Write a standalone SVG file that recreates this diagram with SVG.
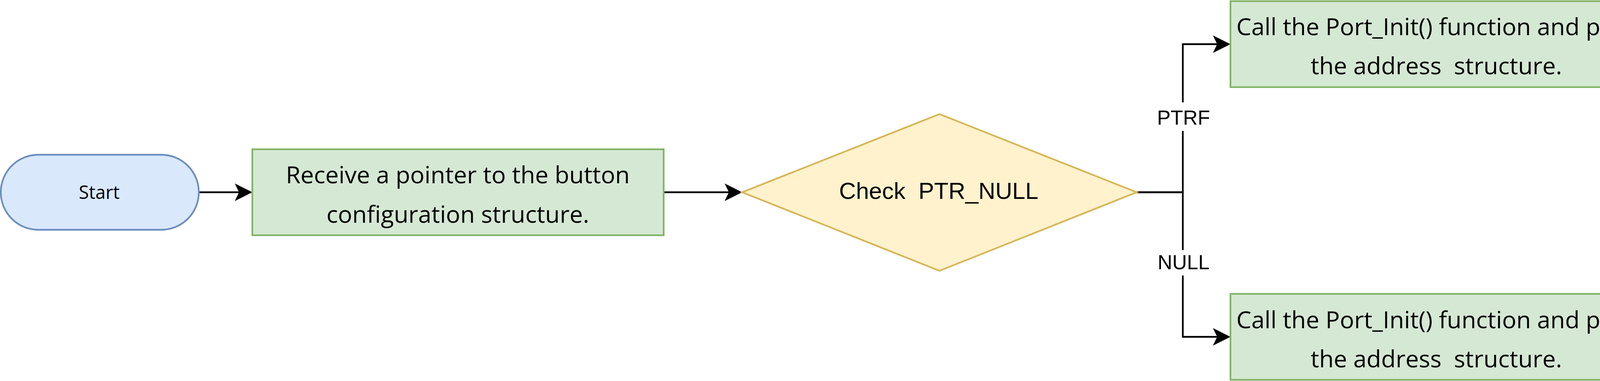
<svg xmlns="http://www.w3.org/2000/svg" width="5010" height="975" viewBox="0 0 5010 975">
  <style>
    .term { fill: #dae8fc; stroke: #6c8ebf; stroke-width: 4.3; }
    .proc { fill: #d5e8d4; stroke: #82b366; stroke-width: 4.3; }
    .dec { fill: #fff2cc; stroke: #d6b656; stroke-width: 4.3; }
    .t-os { font-family: "Open Sans", "Noto Sans", sans-serif; fill: #000; text-anchor: middle; }
    .t-ar { font-family: "Liberation Sans", Arial, sans-serif; fill: #000; text-anchor: middle; }
    .edge { fill: none; stroke: #000; stroke-width: 4.3; stroke-linejoin: miter; marker-end: url(#arrow); }
    .edge-plain { fill: none; stroke: #000; stroke-width: 4.3; stroke-linejoin: miter; }
  </style>
  <defs>
    <marker id="arrow" viewBox="-46 -24 47 48" refX="-30" refY="0" markerWidth="47" markerHeight="48" markerUnits="userSpaceOnUse" orient="auto">
      <path d="M0,0 L-45,-22.5 L-34,0 L-45,22.5 Z" fill="#000" stroke="none"/>
    </marker>
  </defs>

  <g id="connectors">
    <path class="edge" d="M509,492 H616"/>
    <path class="edge" d="M1699,492 H1870"/>
    <path class="edge" d="M2910,492 H3028 V113 H3120"/>
    <path class="edge" d="M2910,492 H3028 V862 H3120"/>
    <path class="edge" d="M4203,113 H4352 V492 H4471"/>
    <path class="edge" d="M4203,862 H4352 V492 H4471"/>
    <g id="label-ptrf">
      <rect x="2960" y="262" width="140" height="73" fill="#fff"/>
      <text class="t-ar" x="3030" y="319" font-size="52">PTRF</text>
    </g>
    <g id="label-null">
      <rect x="2960" y="640" width="140" height="65" fill="#fff"/>
      <text class="t-ar" x="3030" y="689" font-size="52">NULL</text>
    </g>
  </g>

  <g id="start">
    <rect class="term" x="2" y="396" width="507" height="192" rx="96" ry="96"/>
    <text class="t-os" x="254" y="509" font-size="47">Start</text>
  </g>

  <g id="receive">
    <rect class="proc" x="646" y="382" width="1053" height="220"/>
    <text class="t-os" x="1172" y="469" font-size="61">Receive a pointer to the button</text>
    <text class="t-os" x="1172" y="570" font-size="61">configuration structure.</text>
  </g>

  <g id="check">
    <polygon class="dec" points="2405,292 2910,492 2405,693 1900,492"/>
    <text class="t-ar" x="2403" y="509" font-size="60" xml:space="preserve">Check  PTR_NULL</text>
  </g>

  <g id="call-ptrf">
    <rect class="proc" x="3150" y="3" width="1053" height="220"/>
    <text class="t-os" x="3677" y="90" font-size="61">Call the Port_Init() function and pass</text>
    <text class="t-os" x="3677" y="190" font-size="61" xml:space="preserve">the address  structure.</text>
  </g>

  <g id="call-null">
    <rect class="proc" x="3150" y="752" width="1053" height="220"/>
    <text class="t-os" x="3677" y="840" font-size="61">Call the Port_Init() function and pass</text>
    <text class="t-os" x="3677" y="940" font-size="61" xml:space="preserve">the address  structure.</text>
  </g>

  <g id="end">
    <rect class="term" x="4501" y="396" width="507" height="192" rx="96" ry="96"/>
    <text class="t-os" x="4754" y="509" font-size="47">End</text>
  </g>
</svg>
